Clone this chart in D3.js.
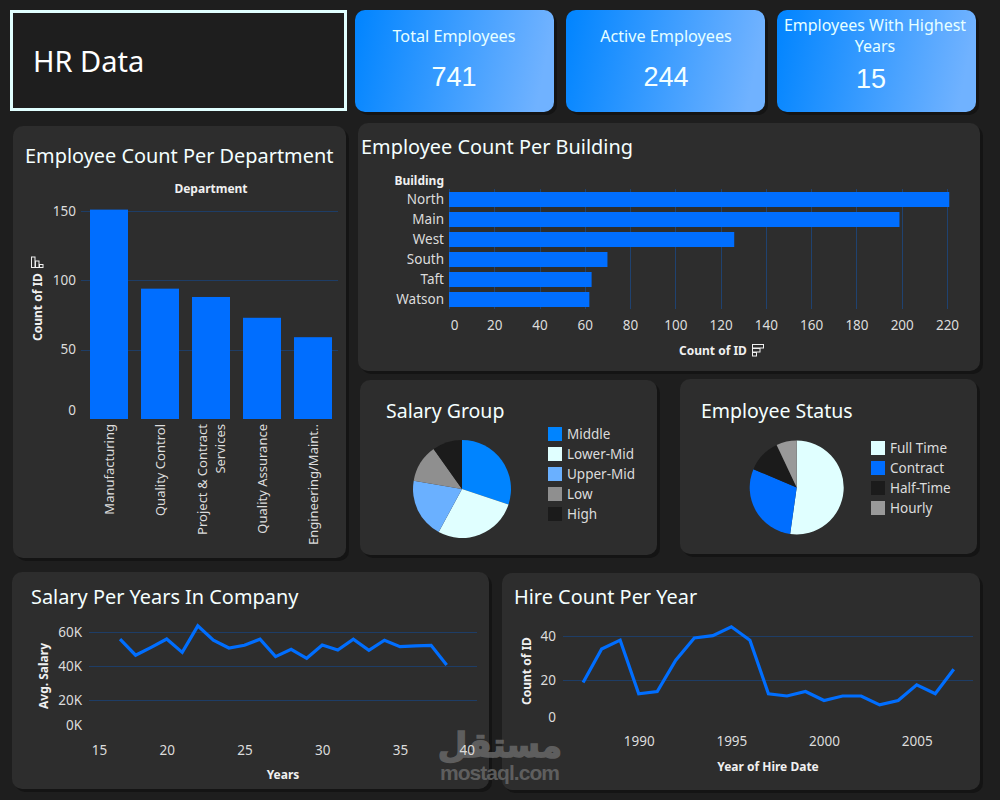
<!DOCTYPE html>
<html><head><meta charset="utf-8">
<script src="https://cdn.jsdelivr.net/npm/d3@7/dist/d3.min.js"></script>
<style>
html,body{margin:0;padding:0;background:#1e1e1e;overflow:hidden}
svg{display:block}
text{font-family:"Noto Sans",sans-serif}
</style></head><body><div id="c"></div>
<script>
// ---- data ----
const deptNames = ["Manufacturing","Quality Control","Project & Contract Services","Quality Assurance","Engineering/Maint.."];
const deptCounts = [151,94,88,73,59];
const deptTicks = [0,50,100,150];
const buildingNames = ["North","Main","West","South","Taft","Watson"];
const buildingCounts = [221,199,126,70,63,62];
const buildingTicks = [0,20,40,60,80,100,120,140,160,180,200,220];
const salaryGroups = ["Middle","Lower-Mid","Upper-Mid","Low","High"];
const salaryGroupCounts = [223,206,147,92,73];
const statusNames = ["Full Time","Contract","Half-Time","Hourly"];
const statusCounts = [387,216,86,52];
const yearsInCompany = [17,18,19,20,21,22,23,24,25,26,27,28,29,30,31,32,33,34,35,36,37,38];
const avgSalary = [55900,46400,51100,56000,48100,63800,55300,50700,52300,55900,45600,49900,44600,52500,49500,55900,49300,55300,51500,51900,52300,40600];
const salaryTicks = [0,20000,40000,60000];
const yearTicks = [15,20,25,30,35,40];
const hireYears = [1987,1988,1989,1990,1991,1992,1993,1994,1995,1996,1997,1998,1999,2000,2001,2002,2003,2004,2005,2006,2007];
const hireCounts = [19,34,38,14,15,29,39,40,44,38,14,13,15,11,13,13,9,11,18,14,25];
const hireTicks = [0,20,40];
const hireYearTicks = [1990,1995,2000,2005];
const kpiLabels = [["Total Employees"],["Active Employees"],["Employees With Highest","Years"]];
const kpiValues = ["741","244","15"];

// ---- palette ----
const BG="#1e1e1e",PANEL="#2d2d2d",SHADOW="#141414",BLUE="#006eff",GRID="#1e3d66",
      TICK="#dcdcdc",TITLE="#f4ffff",LIGHT="#e0ffff";
const salaryColors=["#0084ff",LIGHT,"#6ab0ff","#8f8f8f","#1b1b1b"];
const statusColors=[LIGHT,BLUE,"#1b1b1b","#999999"];

const svg=d3.select("#c").append("svg").attr("width",1000).attr("height",800);
const defs=svg.append("defs");
const grad=defs.append("linearGradient").attr("id","kpi").attr("x1","0").attr("x2","1").attr("y1","0").attr("y2","0.1");
grad.append("stop").attr("offset","0").attr("stop-color","#0084ff");
grad.append("stop").attr("offset","1").attr("stop-color","#70b2ff");

function panel(x,y,w,h,fill=PANEL){
  svg.append("rect").attr("x",x+3).attr("y",y+3).attr("width",w).attr("height",h).attr("rx",10).attr("fill",SHADOW);
  svg.append("rect").attr("x",x).attr("y",y).attr("width",w).attr("height",h).attr("rx",10).attr("fill",fill);
}
function label(x,y,t,size,fill,o={}){
  return svg.append("text").attr("x",x).attr("y",y).attr("font-size",size).attr("fill",fill)
    .attr("text-anchor",o.anchor||"start").attr("font-weight",o.weight||400)
    .attr("transform",o.rotate?`rotate(${o.rotate} ${x} ${y})`:null).text(t);
}
function styleAxis(g){g.select(".domain").remove();g.selectAll(".tick line").remove();
  g.selectAll("text").attr("fill",TICK).attr("font-size",13.5).attr("font-family",'"Noto Sans",sans-serif');}

// header
svg.append("rect").attr("x",11.5).attr("y",11.5).attr("width",334).attr("height",98).attr("fill",BG).attr("stroke",LIGHT).attr("stroke-width",3);
label(33,72,"HR Data",29,"#ffffff");
[[355,454],[566,666],[777,871]].forEach(([x,cx],i)=>{
  panel(x,10,199,102,"url(#kpi)");
  const lines=kpiLabels[i];
  if(lines.length===1){
    label(cx,42,lines[0],16.2,"#e6ffff",{anchor:"middle"});
    label(cx,86,kpiValues[i],27,"#f4ffff",{anchor:"middle"}).style("font-family",'"Liberation Sans",sans-serif');
  }else{
    label(cx+4,31,lines[0],16,"#e6ffff",{anchor:"middle"});
    label(cx+4,52,lines[1],16,"#e6ffff",{anchor:"middle"});
    label(cx,88,kpiValues[i],27,"#f4ffff",{anchor:"middle"}).style("font-family",'"Liberation Sans",sans-serif');
  }
});

// panels
panel(13,126,333,432);panel(358,123,622,248);panel(360,380,297,175);panel(680,379,297,175);panel(12,572,477,217);panel(502,573,478,217);

label(25,163,"Employee Count Per Department",19.9,TITLE);
label(361,154,"Employee Count Per Building",19.9,TITLE);
label(386,418,"Salary Group",19.5,TITLE);
label(701,418,"Employee Status",19.5,TITLE);
label(31,604,"Salary Per Years In Company",19.9,TITLE);
label(514,604,"Hire Count Per Year",19.9,TITLE);

// department bars
{
  const x=d3.scaleBand().domain(deptNames).range([83.5,338.5]).paddingInner(13/51).paddingOuter(6.5/51);
  const y=d3.scaleLinear().domain([0,150]).range([419,211]);
  svg.append("g").selectAll("line").data(deptTicks.filter(d=>d>0)).join("line")
    .attr("x1",81).attr("x2",338).attr("y1",d=>Math.round(y(d))+.5).attr("y2",d=>Math.round(y(d))+.5).attr("stroke",GRID);
  svg.append("g").selectAll("rect").data(deptNames).join("rect")
    .attr("x",d=>x(d)).attr("width",x.bandwidth()).attr("y",(d,i)=>y(deptCounts[i])).attr("height",(d,i)=>y(0)-y(deptCounts[i])).attr("fill",BLUE);
  const ay=svg.append("g").attr("transform","translate(76,0)").call(d3.axisLeft(y).tickValues(deptTicks).tickSize(0).tickPadding(0)).call(styleAxis);
  ay.selectAll(".tick text").filter(d=>d===0).attr("y",-9);
  label(211,193,"Department",12,"#f0f0f0",{anchor:"middle",weight:700});
  label(42,341,"Count of ID",12,"#f0f0f0",{rotate:-90,weight:700});
  deptNames.forEach((n,i)=>{
    const cx=x(n)+x.bandwidth()/2;
    const lines=n==="Project & Contract Services"?["Project & Contract","Services"]:[n];
    lines.forEach((l,j)=>{
      const tx=lines.length>1?cx-4+j*18:cx+5;
      label(tx,424,l,13,TICK,{anchor:"end",rotate:-90});
    });
  });
  // sort icon
  const ic=svg.append("g").attr("fill","none").attr("stroke","#f0f0f0").attr("stroke-width",1);
  [[31.5,10.5],[35.5,6.5],[39.5,3]].forEach(([xx,h])=>ic.append("rect").attr("x",xx).attr("y",267.5-h).attr("width",3.5).attr("height",h));
}

// building bars
{
  const x=d3.scaleLinear().domain([0,220]).range([449,947]);
  const y=d3.scaleBand().domain(buildingNames).range([189.5,309.5]).paddingInner(.25).paddingOuter(.125);
  svg.append("g").selectAll("line").data(buildingTicks).join("line")
    .attr("x1",d=>Math.round(x(d))+.5).attr("x2",d=>Math.round(x(d))+.5).attr("y1",189).attr("y2",309).attr("stroke","#1f4270");
  svg.append("g").selectAll("rect").data(buildingNames).join("rect")
    .attr("x",x(0)).attr("y",d=>y(d)).attr("height",y.bandwidth()).attr("width",(d,i)=>x(buildingCounts[i])-x(0)).attr("fill",BLUE);
  svg.append("g").attr("transform","translate(444,0)").call(d3.axisLeft(y).tickSize(0).tickPadding(0)).call(styleAxis);
  const ax=svg.append("g").attr("transform","translate(0,320)").call(d3.axisBottom(x).tickValues(buildingTicks).tickSize(0).tickPadding(0)).call(styleAxis);
  ax.selectAll(".tick text").filter(d=>d===0).attr("x",5);
  label(444,185,"Building",12,"#f0f0f0",{anchor:"end",weight:700});
  label(679,355,"Count of ID",12,"#f0f0f0",{weight:700});
  const ic=svg.append("g").attr("fill","none").attr("stroke","#f0f0f0").attr("stroke-width",1);
  [[11,344.5],[7.5,348.5],[4,352.5]].forEach(([w,yy])=>ic.append("rect").attr("x",752.5).attr("y",yy).attr("width",w).attr("height",3.5));
}

// pies
function pie(cx,cy,r,vals,cols,names,lx,ly){
  const arc=d3.arc().innerRadius(0).outerRadius(r);
  const arcs=d3.pie().sort(null)(vals);
  svg.append("g").attr("transform",`translate(${cx},${cy})`).selectAll("path").data(arcs).join("path")
    .attr("d",arc).attr("fill",(d,i)=>cols[i]);
  names.forEach((n,i)=>{
    svg.append("rect").attr("x",lx).attr("y",ly+i*20).attr("width",14).attr("height",14).attr("fill",cols[i]);
    label(lx+19,ly+i*20+12,n,13.5,TICK);
  });
}
pie(462,489,49,salaryGroupCounts,salaryColors,salaryGroups,548,427);
pie(796.7,487.5,47,statusCounts,statusColors,statusNames,871,441);

// watermark (sits under the salary axis labels)
{
  const wm=svg.append("g").attr("opacity",.8).style("pointer-events","none");
  wm.append("text").attr("x",500).attr("y",780).attr("text-anchor","middle").attr("fill","#6b6b6b")
    .attr("font-size",21).attr("font-weight",700).attr("textLength",120)
    .style("font-family",'"Liberation Sans",sans-serif').text("mostaql.com");
  wm.append("text").attr("x",500).attr("y",757).attr("text-anchor","middle").attr("fill","#6b6b6b")
    .attr("stroke","#6b6b6b").attr("stroke-width",1.5)
    .attr("font-size",34).attr("font-weight",700)
    .style("font-family",'"DejaVu Sans",sans-serif').text("مستقل");
}

// salary line
{
  const x=d3.scaleLinear().domain([20,35]).range([166.7,400]);
  const y=d3.scaleLinear().domain([0,60000]).range([733.5,632.3]);
  svg.append("g").selectAll("line").data(salaryTicks.filter(d=>d>0)).join("line")
    .attr("x1",89).attr("x2",477).attr("y1",d=>Math.round(y(d))+.5).attr("y2",d=>Math.round(y(d))+.5).attr("stroke",GRID);
  svg.append("path").attr("fill","none").attr("stroke",BLUE).attr("stroke-width",3.2)
    .attr("d",d3.line().x(d=>x(d)).y((d,i)=>y(avgSalary[i]))(yearsInCompany));
  const ay=svg.append("g").attr("transform","translate(82,0)").call(d3.axisLeft(y).tickValues(salaryTicks).tickSize(0).tickPadding(0).tickFormat(d=>d/1000+"K")).call(styleAxis);
  ay.selectAll(".tick text").filter(d=>d===0).attr("y",-8);
  const ax=svg.append("g").attr("transform","translate(0,745)").call(d3.axisBottom(x).tickValues(yearTicks).tickSize(0).tickPadding(0)).call(styleAxis);
  ax.selectAll(".tick text").filter(d=>d===15).attr("x",10);
  ax.selectAll(".tick text").filter(d=>d===40).attr("x",-11);
  label(283,779,"Years",12,"#f0f0f0",{anchor:"middle",weight:700});
  label(48,709,"Avg. Salary",12,"#f0f0f0",{rotate:-90,weight:700});
}

// hire line
{
  const x=d3.scaleLinear().domain([1990,2005]).range([638.7,916.7]);
  const y=d3.scaleLinear().domain([0,40]).range([725,635.7]);
  svg.append("g").selectAll("line").data(hireTicks.filter(d=>d>0)).join("line")
    .attr("x1",563).attr("x2",973).attr("y1",d=>Math.round(y(d))+.5).attr("y2",d=>Math.round(y(d))+.5).attr("stroke",GRID);
  svg.append("path").attr("fill","none").attr("stroke",BLUE).attr("stroke-width",3.2)
    .attr("d",d3.line().x(d=>x(d)).y((d,i)=>y(hireCounts[i]))(hireYears));
  const ay=svg.append("g").attr("transform","translate(556,0)").call(d3.axisLeft(y).tickValues(hireTicks).tickSize(0).tickPadding(0)).call(styleAxis);
  ay.selectAll(".tick text").filter(d=>d===0).attr("y",-8);
  svg.append("g").attr("transform","translate(0,736)").call(d3.axisBottom(x).tickValues(hireYearTicks).tickFormat(d3.format("d")).tickSize(0).tickPadding(0)).call(styleAxis);
  label(768,771,"Year of Hire Date",12,"#f0f0f0",{anchor:"middle",weight:700});
  label(531,705,"Count of ID",12,"#f0f0f0",{rotate:-90,weight:700});
}
</script></body></html>
